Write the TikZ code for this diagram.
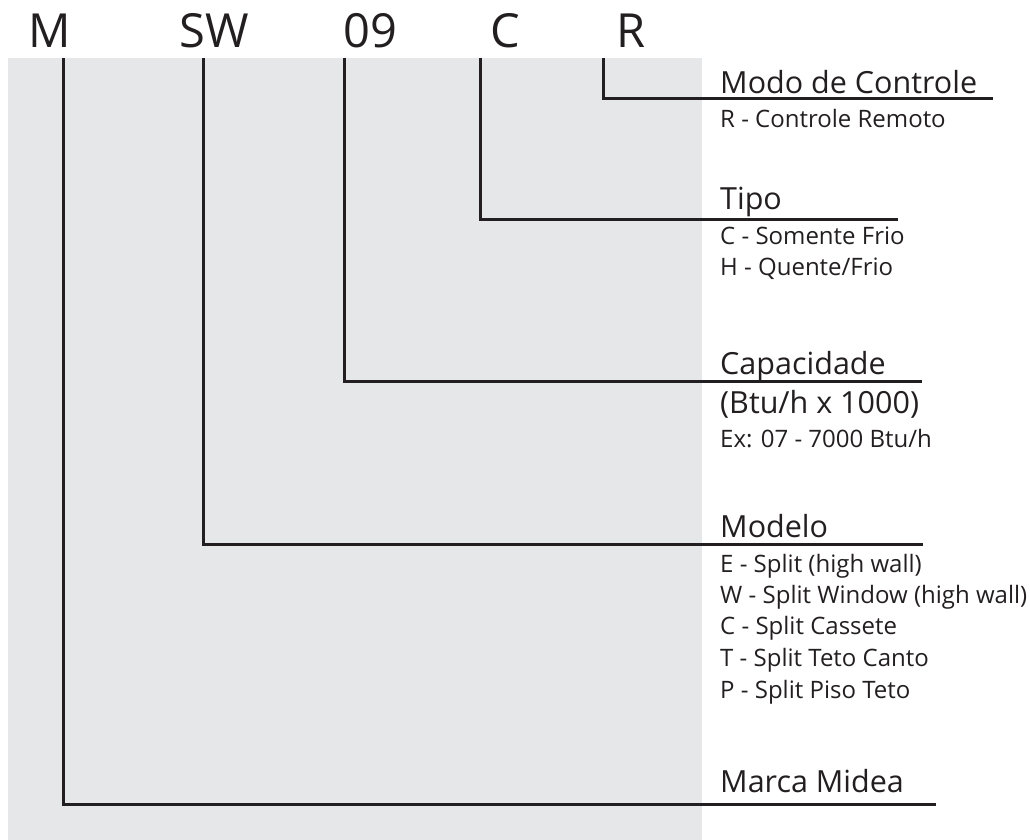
\documentclass[tikz,border=0pt]{standalone}
\usepackage{fontspec}
\setmainfont{Open Sans}
\definecolor{panelgray}{HTML}{E6E7E8}
\definecolor{inkblack}{HTML}{231F20}
\begin{document}
\begin{tikzpicture}[x=1pt, y=-1pt,
    leader/.style = {inkblack, line width=3pt},
    code/.style = {anchor=base, inner sep=0pt, text=inkblack, font=\fontsize{47}{47}\selectfont},
    title/.style = {anchor=base west, inner sep=0pt, text=inkblack, font=\fontsize{30.5}{36}\selectfont},
    entry/.style = {anchor=base west, inner sep=0pt, text=inkblack, font=\fontsize{24}{30}\selectfont}]
    \useasboundingbox (0,0) rectangle (1030,840);
    \fill[panelgray] (8,58) rectangle (702,840);
    % model code letters
    \node[code] (m) at (50,48) {M};
    \node[code] (sw) at (214,48) {SW};
    \node[code] (nn) at (370,48) {09};
    \node[code] (c) at (505,48) {C};
    \node[code] (r) at (631,48) {R};
    % leader start and end points
    \coordinate (m0) at (63,58);
    \coordinate (sw0) at (203,58);
    \coordinate (nn0) at (344,58);
    \coordinate (c0) at (480,58);
    \coordinate (r0) at (603,58);
    \coordinate (m1) at (936,804);
    \coordinate (sw1) at (923,544);
    \coordinate (nn1) at (922,381);
    \coordinate (c1) at (898,219);
    \coordinate (r1) at (993,99);
    \draw[leader] (r0) |- (r1);
    \draw[leader] (c0) |- (c1);
    \draw[leader] (nn0) |- (nn1);
    \draw[leader] (sw0) |- (sw1);
    \draw[leader] (m0) |- (m1);
    % descriptions
    \node[title] (modo) at (720,94) {Modo de Controle};
    \node[entry] (modo1) at (720,128) {R - Controle Remoto};
    \node[title] (tipo) at (720,209) {Tipo};
    \node[entry] (tipo1) at (720,244) {C - Somente Frio};
    \node[entry] (tipo2) at (720,275) {H - Quente/Frio};
    \node[title] (cap) at (720,374) {Capacidade};
    \node[title] (cap1) at (720,413) {(Btu/h x 1000)};
    \node[entry] (cap2) at (720,447) {Ex: 07 - 7000 Btu/h};
    \node[title] (modelo) at (720,537) {Modelo};
    \node[entry] (mod1) at (720,572) {E - Split (high wall)};
    \node[entry] (mod2) at (720,603) {W - Split Window (high wall)};
    \node[entry] (mod3) at (720,634) {C - Split Cassete};
    \node[entry] (mod4) at (720,666) {T - Split Teto Canto};
    \node[entry] (mod5) at (720,698) {P - Split Piso Teto};
    \node[title] (marca) at (720,792) {Marca Midea};
\end{tikzpicture}
\end{document}
